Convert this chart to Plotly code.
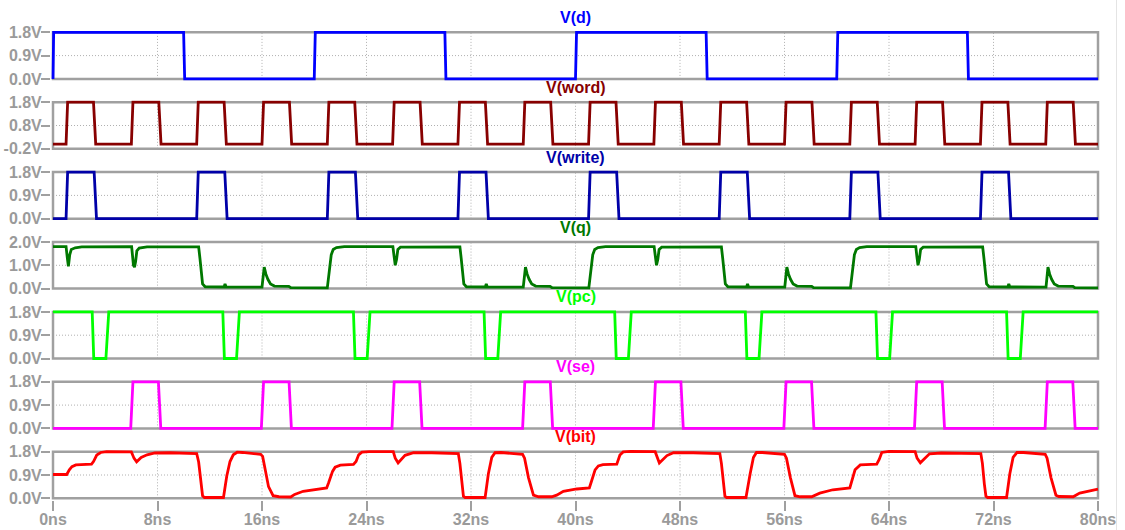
import plotly.graph_objects as go

# ---------------------------------------------------------------- data (ns, V)
T_END = 80.0
TIME_TICKS = list(range(0, 81, 8))
TIME_LABELS = [f"{t}ns" for t in TIME_TICKS]

# data input: square wave, edges in ns
d_t = [0.0, 0.05, 10.0, 10.08, 20.0, 20.08, 30.0, 30.08, 40.0, 40.08,
       50.0, 50.08, 60.0, 60.08, 70.0, 70.08, 80.0]
d_v = [0.0, 1.8, 1.8, 0.0, 0.0, 1.8, 1.8, 0.0, 0.0, 1.8,
       1.8, 0.0, 0.0, 1.8, 1.8, 0.0, 0.0]

# pulse sources: start time of each pulse (ns)
word_starts = [1, 6, 11, 16, 21, 26, 31, 36, 41, 46, 51, 56, 61, 66, 71, 76]
write_starts = [1, 11, 21, 31, 41, 51, 61, 71]
pc_starts = [3, 13, 23, 33, 43, 53, 63, 73]
se_starts = [5.95, 15.95, 25.95, 35.95, 45.95, 55.95, 65.95, 75.95]

# pulse shapes: (rise, on, fall, base level, pulse level)
word_shape = (0.12, 1.98, 0.17, 0.0, 1.8)
write_shape = (0.12, 2.03, 0.18, 0.0, 1.8)
pc_shape = (0.12, 0.93, 0.22, 1.8, 0.0)
se_shape = (0.17, 1.95, 0.18, 0.0, 1.8)

# storage node q
q_t = [0.00, 1.00, 1.10, 1.18, 1.28, 1.40, 1.70, 2.20, 6.02, 6.10, 6.16, 6.24, 6.32,
       6.42, 6.60, 7.20, 11.15, 11.25, 11.35, 11.45, 11.65, 13.10, 13.17, 13.25,
       16.00, 16.10, 16.17, 16.30, 16.45, 16.65, 16.95, 18.05, 18.20,
       21.00, 21.15, 21.30, 21.45, 21.70, 22.30, 26.02, 26.12, 26.20, 26.30,
       26.40, 26.60, 31.15, 31.25, 31.35, 31.45, 31.65, 33.10, 33.17, 33.25,
       36.00, 36.10, 36.17, 36.30, 36.45, 36.65, 36.95, 38.05, 38.20,
       41.02, 41.17, 41.32, 41.47, 41.72, 42.30, 46.02, 46.12, 46.20, 46.30,
       46.40, 46.60, 51.17, 51.27, 51.37, 51.47, 51.67, 53.10, 53.17, 53.25,
       56.02, 56.12, 56.18, 56.31, 56.46, 56.66, 56.96, 58.08, 58.22,
       61.05, 61.20, 61.35, 61.50, 61.75, 62.30, 66.05, 66.14, 66.22, 66.32,
       66.42, 66.62, 71.17, 71.27, 71.37, 71.47, 71.67, 73.10, 73.17, 73.25,
       76.02, 76.10, 76.17, 76.30, 76.45, 76.65, 76.95, 78.08, 78.22, 80.00]
q_v = [1.80, 1.80, 1.30, 0.96, 1.45, 1.68, 1.75, 1.79, 1.80, 1.40, 1.00, 0.92, 1.15,
       1.62, 1.74, 1.79, 1.79, 1.30, 0.60, 0.20, 0.08, 0.07, 0.20, 0.07,
       0.06, 0.60, 0.92, 0.62, 0.40, 0.20, 0.11, 0.10, 0.04,
       0.03, 0.80, 1.45, 1.68, 1.76, 1.80, 1.80, 1.35, 1.00, 1.25,
       1.68, 1.78, 1.79, 1.30, 0.60, 0.20, 0.08, 0.07, 0.20, 0.07,
       0.06, 0.60, 0.92, 0.62, 0.40, 0.20, 0.11, 0.10, 0.04,
       0.03, 0.80, 1.45, 1.68, 1.76, 1.80, 1.80, 1.35, 1.00, 1.25,
       1.68, 1.78, 1.79, 1.30, 0.60, 0.20, 0.08, 0.07, 0.20, 0.07,
       0.06, 0.60, 0.92, 0.62, 0.40, 0.20, 0.11, 0.10, 0.04,
       0.03, 0.80, 1.45, 1.68, 1.76, 1.80, 1.80, 1.35, 1.00, 1.25,
       1.68, 1.78, 1.79, 1.30, 0.60, 0.20, 0.08, 0.07, 0.20, 0.07,
       0.06, 0.60, 0.92, 0.62, 0.40, 0.20, 0.11, 0.10, 0.04, 0.03]

# bit line
bit_t = [0.00, 1.05, 1.25, 1.45, 1.75, 2.95, 3.10, 3.35, 3.65, 4.10, 6.00, 6.20,
         6.40, 6.75, 7.20, 7.80, 9.00, 11.00, 11.15, 11.30, 11.45, 11.60, 13.05,
         13.30, 13.55, 13.80, 14.10, 14.50, 15.90, 16.05, 16.25, 16.50, 16.85,
         17.30, 18.20, 18.50, 19.15, 20.00, 20.95,
         21.10, 21.40, 21.60, 22.00, 23.00, 23.20, 23.40, 23.65, 24.20, 26.05,
         26.20, 26.42, 26.95, 27.60, 29.00, 31.03, 31.15, 31.30, 31.42, 31.55,
         33.08, 33.33, 33.59, 33.84, 34.30, 35.95, 36.10, 36.40, 36.78, 37.17,
         38.18, 38.56, 39.07, 40.10, 41.06,
         41.20, 41.50, 41.75, 42.10, 43.16, 43.40, 43.65, 44.20, 46.10, 46.25,
         46.42, 47.00, 47.50, 49.00, 51.05, 51.17, 51.32, 51.44, 51.57, 53.05,
         53.37, 53.62, 53.85, 54.30, 56.00, 56.15, 56.45, 56.80, 57.20, 58.08,
         58.70, 59.70, 61.00,
         61.15, 61.40, 61.80, 63.06, 63.25, 63.45, 64.00, 66.00, 66.15, 66.40,
         67.10, 68.00, 71.03, 71.15, 71.30, 71.42, 71.55, 73.00, 73.25, 73.50,
         73.80, 74.30, 75.96, 76.10, 76.40, 76.78, 77.00, 78.10, 78.60, 79.40, 80.00]
bit_v = [0.92, 0.92, 1.10, 1.22, 1.29, 1.32, 1.42, 1.67, 1.77, 1.80, 1.79, 1.55,
         1.41, 1.58, 1.68, 1.75, 1.76, 1.73, 1.40, 0.60, 0.10, 0.03, 0.03,
         0.85, 1.42, 1.68, 1.78, 1.77, 1.70, 1.62, 1.10, 0.45, 0.10,
         0.06, 0.05, 0.15, 0.27, 0.34, 0.40,
         0.60, 1.04, 1.20, 1.28, 1.31, 1.42, 1.68, 1.78, 1.80, 1.80,
         1.55, 1.37, 1.66, 1.76, 1.76, 1.73, 1.35, 0.55, 0.08, 0.03,
         0.03, 0.95, 1.58, 1.76, 1.77, 1.70, 1.55, 0.80, 0.12, 0.06,
         0.06, 0.12, 0.27, 0.36, 0.40,
         0.62, 1.10, 1.25, 1.30, 1.32, 1.67, 1.79, 1.81, 1.80, 1.55,
         1.36, 1.65, 1.76, 1.76, 1.73, 1.35, 0.55, 0.08, 0.03, 0.03,
         0.95, 1.58, 1.77, 1.77, 1.70, 1.55, 0.80, 0.10, 0.06, 0.06,
         0.20, 0.33, 0.40,
         0.65, 1.10, 1.29, 1.32, 1.50, 1.77, 1.81, 1.80, 1.55, 1.37,
         1.72, 1.75, 1.73, 1.35, 0.55, 0.08, 0.03, 0.03, 0.95, 1.58,
         1.77, 1.77, 1.70, 1.55, 0.80, 0.12, 0.07, 0.06, 0.20, 0.30, 0.35]


def pulse_points(starts, shape):
    rise, on, fall, base, level = shape
    t, v = [0.0], [base]
    for s in starts:
        t += [s, s + rise, s + rise + on, s + rise + on + fall]
        v += [base, level, level, base]
    t.append(T_END)
    v.append(base)
    return t, v


word_t, word_v = pulse_points(word_starts, word_shape)
write_t, write_v = pulse_points(write_starts, write_shape)
pc_t, pc_v = pulse_points(pc_starts, pc_shape)
se_t, se_v = pulse_points(se_starts, se_shape)

# name, x, y, colour, axis low, axis high, tick values, tick labels
panes = [
    ("V(d)", d_t, d_v, "#0000ff", 0.0, 1.8, [0.0, 0.9, 1.8], ["0.0V", "0.9V", "1.8V"]),
    ("V(word)", word_t, word_v, "#880000", -0.2, 1.8, [-0.2, 0.8, 1.8], ["-0.2V", "0.8V", "1.8V"]),
    ("V(write)", write_t, write_v, "#0000a8", 0.0, 1.8, [0.0, 0.9, 1.8], ["0.0V", "0.9V", "1.8V"]),
    ("V(q)", q_t, q_v, "#007800", 0.0, 2.0, [0.0, 1.0, 2.0], ["0.0V", "1.0V", "2.0V"]),
    ("V(pc)", pc_t, pc_v, "#00ff00", 0.0, 1.8, [0.0, 0.9, 1.8], ["0.0V", "0.9V", "1.8V"]),
    ("V(se)", se_t, se_v, "#ff00ff", 0.0, 1.8, [0.0, 0.9, 1.8], ["0.0V", "0.9V", "1.8V"]),
    ("V(bit)", bit_t, bit_v, "#ff0000", 0.0, 1.8, [0.0, 0.9, 1.8], ["0.0V", "0.9V", "1.8V"]),
]

# ---------------------------------------------------------------- layout geometry (px)
W, H = 1125, 530
M_L, M_R, M_T, M_B = 51, 25, 30, 29
AREA_TOP, AREA_BOT = M_T, H - M_B
AREA_H = AREA_BOT - AREA_TOP
PANE_TOP0, PANE_STEP, PANE_H, PAD = 32.3, 69.9, 46.6, 2.0
X_PAD = PAD * T_END / (W - M_L - M_R - 2 * PAD)

FRAME = "#a0a0a0"
GRID = "#b0b0b0"
TEXT = "#9a9a9a"
FONT = "Liberation Sans"

fig = go.Figure()
shapes, annotations = [], []
layout = {}

for i, (name, tx, vy, color, lo, hi, tv, tt) in enumerate(panes):
    n = "" if i == 0 else str(i + 1)
    xa, ya = "x" + n, "y" + n
    top_px = PANE_TOP0 + i * PANE_STEP
    bot_px = top_px + PANE_H
    d0 = (AREA_BOT - (bot_px + PAD)) / AREA_H
    d1 = (AREA_BOT - (top_px - PAD)) / AREA_H
    pad_v = PAD * (hi - lo) / PANE_H
    last = i == len(panes) - 1

    fig.add_trace(go.Scatter(x=tx, y=vy, mode="lines", xaxis=xa, yaxis=ya,
                             line=dict(color=color, width=2.8),
                             showlegend=False, hoverinfo="skip"))

    layout["xaxis" + n] = dict(
        domain=[0, 1], anchor=ya, range=[-X_PAD, T_END + X_PAD], automargin=False,
        showgrid=False, zeroline=False, showline=False,
        matches=None if i == 0 else "x",
        tickvals=TIME_TICKS, ticktext=TIME_LABELS,
        showticklabels=last, ticks="outside" if last else "",
        ticklen=10, tickwidth=2, tickcolor=FRAME, ticklabelstandoff=-6,
        tickfont=dict(family=FONT, size=16, color=TEXT, weight="bold"),
    )
    layout["yaxis" + n] = dict(
        domain=[d0, d1], anchor=xa, range=[lo - pad_v, hi + pad_v], automargin=False,
        showgrid=False, zeroline=False, showline=False,
        tickvals=tv, ticktext=tt, ticks="outside", ticklen=9, tickwidth=2,
        tickcolor=FRAME, ticklabelstandoff=-4,
        tickfont=dict(family=FONT, size=16, color=TEXT, weight="bold"),
    )

    mid = tv[1]
    shapes.append(dict(type="line", xref=xa, yref=ya, x0=0, x1=T_END, y0=mid, y1=mid,
                       line=dict(color=GRID, width=1, dash="1px,2px"), layer="below"))
    for t in TIME_TICKS[1:-1]:
        shapes.append(dict(type="line", xref=xa, yref=ya, x0=t, x1=t, y0=lo, y1=hi,
                           line=dict(color=GRID, width=1, dash="1px,2px"), layer="below"))
    shapes.append(dict(type="rect", xref=xa, yref=ya, x0=0, x1=T_END, y0=lo, y1=hi,
                       line=dict(color=FRAME, width=2.5), fillcolor="rgba(0,0,0,0)",
                       layer="below"))

    annotations.append(dict(text=name, xref="paper", yref="paper", x=0.5, y=d1,
                            xanchor="center", yanchor="middle", yshift=13,
                            showarrow=False,
                            font=dict(family=FONT, size=16, color=color, weight="bold")))

# window edge on the right
shapes.append(dict(type="line", xref="paper", yref="paper",
                   x0=(1116.5 - M_L) / (W - M_L - M_R), x1=(1116.5 - M_L) / (W - M_L - M_R),
                   y0=-M_B / AREA_H, y1=1 + M_T / AREA_H,
                   line=dict(color="#e4e4e4", width=1), layer="below"))

fig.update_layout(
    width=W, height=H,
    margin=dict(l=M_L, r=M_R, t=M_T, b=M_B, pad=0, autoexpand=False),
    paper_bgcolor="white", plot_bgcolor="white",
    shapes=shapes, annotations=annotations,
    showlegend=False,
    **layout,
)

fig.write_html("out.html")
